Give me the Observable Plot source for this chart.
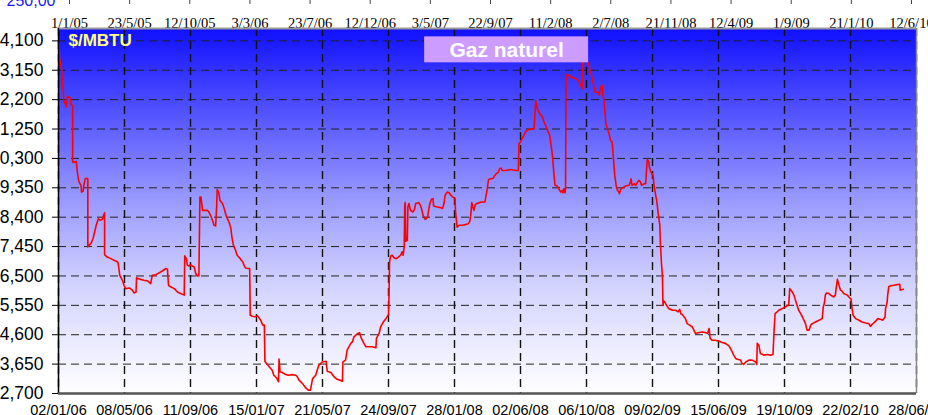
<!DOCTYPE html>
<html><head><meta charset="utf-8">
<script src="https://cdn.jsdelivr.net/npm/d3@7"></script>
<script src="https://cdn.jsdelivr.net/npm/@observablehq/plot@0.6"></script>
<style>
html,body{margin:0;padding:0;overflow:hidden;background:#fff;}
#chart svg{display:block;}
</style></head><body><div id="chart"></div>
<script>
// ---- data ----
const startDate = "2006-01-02";
const dayOffsets = [
1,2,6,8,9,10,13,15,17,20,23,24,27,27,30,34,36,39,43,44,47,49,51,54,56,56,58,62,66,69,72,76,79,84,86,88,88,93,100,106,113,114,117,122,125,128,136,141,144,148,149,153,157,163,170,176,179,186,192,198,205,208,210,214,221,227,233,240,241,244,246,249,252,256,259,262,265,268,270,272,275,284,287,291,294,297,300,302,303,306,308,313,316,319,322,326,329,331,334,338,341,346,349,352,354,357,362,365,366,370,375,380,386,390,393,394,397,401,405,408,411,416,420,421,423,427,434,440,446,453,456,459,466,472,477,481,485,491,497,504,511,513,520,526,532,542,543,548,551,558,561,564,571,575,577,583,587,
599,606,607,612,615,620,625,630,631,632,634,637,641,645,649,653,656,658,660,661,662,663,666,667,669,672,676,679,682,688,691,693,696,700,702,705,707,709,712,715,716,723,730,733,736,738,742,746,749,753,757,758,761,765,771,777,782,785,787,789,791,793,796,803,809,814,817,819,821,825,830,833,836,840,842,845,847,854,863,873,878,879,882,885,889,892,898,905,908,911,914,919,924,927,930,935,938,940,943,945,947,948,952,955,959,962,963,965,967,968,969,973,978,984,989,994,997,1000,1001,1004,1008,1010,1013,1016,1019,1022,1025,1030,1032,1035,1038,1039,1041,1045,1048,1051,1054,1057,1060,1062,1065,1067,1070,1071,1073,1076,1083,1089,1092,1093,1095,1099,1102,1105,1108,1111,1113,1118,1121,1124,1127,1128,1131,1135,1137,1140,1142,1145,1148,1149,1151,1153,1154,1155,1157,
1161,1165,1172,1178,1183,1186,1188,1191,1194,1197,1200,1205,1210,1213,1216,1223,1229,1235,1239,1242,1244,1248,1254,1261,1267,1273,1280,1283,1286,1289,1293,1296,1302,1305,1308,1312,1318,1324,1331,1333,1334,1337,1340,1347,1353,1359,1364,1366,1368,1372,1375,1382,1388,1391,1394,1396,1401,1404,1407,1410,1413,1417,1420,1423,1426,1429,1433,1436,1439,1445,1452,1458,1460,1462,1464,1466,1471,1474,1480,1483,1485,1487,1490,1493,1496,1499,1506,1509,1513,1515,1517,1522,1528,1534,1541,1547,1550,1553,1557,1560,1564,1569,1574,1578,1579,1582,1583,1585,1588,1595,1601,1606,1607,1611,1613
];
const prices = [
14.01,13.52,13.20,12.61,12.50,12.17,12.07,11.96,12.28,12.30,12.23,12.04,12.01,10.18,10.18,10.20,9.86,9.54,9.43,9.21,9.24,9.48,9.64,9.66,9.64,7.44,7.49,7.55,7.71,7.92,8.14,8.35,8.30,8.33,8.46,8.54,7.19,7.11,7.06,7.01,6.95,6.90,6.52,6.36,6.20,6.09,6.11,6.04,5.95,5.98,6.44,6.41,6.39,6.36,6.34,6.25,6.52,6.54,6.60,6.66,6.74,6.72,6.20,6.15,6.09,5.98,5.93,5.88,7.15,7.06,6.85,6.82,6.87,6.81,6.79,6.58,6.50,6.50,9.05,9.05,8.62,8.62,8.57,8.43,8.30,8.14,8.12,8.78,9.29,9.21,8.95,8.84,8.70,8.51,8.37,8.22,8.05,7.76,7.49,7.33,7.17,7.08,7.01,6.95,6.85,6.76,6.74,6.74,5.23,5.20,5.18,5.21,5.07,4.91,4.91,3.74,3.67,3.59,3.51,3.45,3.29,3.21,3.08,3.81,3.40,3.38,3.31,3.29,3.31,3.29,3.24,3.13,3.02,2.88,2.81,2.81,3.18,3.29,3.62,3.72,3.74,3.42,3.38,3.24,3.16,3.10,3.72,3.78,4.10,4.32,4.37,4.53,4.64,4.66,4.53,4.32,4.21,
4.21,4.18,4.48,4.64,4.85,5.01,5.12,5.25,5.88,6.95,7.14,7.17,7.08,7.06,7.11,7.17,7.28,7.17,7.44,8.78,8.87,7.62,7.65,8.73,8.84,8.62,8.57,8.62,8.84,8.87,8.78,8.68,8.46,8.33,8.35,8.41,8.68,8.84,8.98,9.00,8.76,8.73,8.71,8.68,8.84,9.11,9.21,9.19,9.11,9.05,9.00,8.57,8.08,8.14,8.14,8.16,8.19,8.25,8.46,8.87,8.73,8.62,8.82,8.87,8.89,8.89,9.16,9.38,9.62,9.64,9.66,9.75,9.81,9.86,9.97,9.99,9.91,9.91,9.94,9.91,9.91,10.78,10.83,10.94,11.07,11.17,11.24,11.26,11.26,12.17,11.91,11.74,11.64,11.47,11.37,11.15,11.04,10.78,10.40,9.97,9.59,9.43,9.41,9.32,9.21,9.27,9.19,9.32,9.19,9.32,12.98,13.00,12.93,12.90,12.87,12.77,12.66,12.55,13.41,13.95,13.52,13.41,13.31,13.09,12.87,12.61,12.44,12.44,12.34,12.61,12.66,12.34,12.23,11.42,11.26,11.10,10.88,10.83,10.18,9.75,9.38,9.27,9.21,9.16,9.30,9.34,9.41,9.43,9.54,9.64,9.43,9.48,9.43,9.52,9.59,9.54,9.43,9.48,9.48,10.27,10.18,10.02,9.86,9.75,9.43,9.11,8.95,8.51,8.14,7.60,6.95,6.47,5.55,5.71,5.66,
5.55,5.45,5.39,5.39,5.34,5.42,5.28,5.25,5.18,5.12,4.96,4.91,4.85,4.75,4.64,4.67,4.69,4.67,4.64,4.80,4.48,4.42,4.42,4.39,4.35,4.32,4.24,4.15,4.05,3.94,3.83,3.81,3.78,3.67,3.64,3.72,3.78,3.78,3.72,3.64,4.32,4.26,3.99,3.94,3.96,3.94,3.96,4.69,5.28,5.34,5.39,5.45,5.50,5.55,5.55,6.09,5.98,5.88,5.71,5.55,5.39,5.28,5.18,5.07,4.96,4.75,4.75,4.91,4.96,5.01,5.07,5.12,5.50,5.61,5.88,5.95,5.93,5.88,5.82,5.88,6.15,6.39,6.20,6.04,6.01,5.93,5.88,5.82,5.75,5.45,5.23,5.12,5.07,5.01,4.98,4.96,4.87,4.93,4.99,5.04,5.12,5.10,5.07,5.18,5.45,5.66,5.88,6.15,6.18,6.20,6.22,6.23,6.04,6.06,6.07
];
const xTickDates = ["2006-01-02","2006-05-08","2006-09-11","2007-01-15","2007-05-21","2007-09-24","2008-01-28","2008-06-02","2008-10-06","2009-02-09","2009-06-15","2009-10-19","2010-02-22","2010-06-28"];
const yTickValues = [2.7,3.65,4.6,5.55,6.5,7.45,8.4,9.35,10.3,11.25,12.2,13.15,14.1];
// labels as they appear in the picture (leading digit cut off by the page edge)
const yTickLabels = ["2,700","3,650","4,600","5,550","6,500","7,450","8,400","9,350","0,300","1,250","2,200","3,150","4,100"];
const topTickDates = ["2005-01-01","2005-05-23","2005-10-12","2006-03-03","2006-07-23","2006-12-12","2007-05-03","2007-09-22","2008-02-11","2008-07-02","2008-11-21","2009-04-12","2009-09-01","2010-01-21","2010-06-12"];
const unitLabel = "$/MBTU";
const seriesTitle = "Gaz naturel";
const cornerLabel = "250,00";
const titleBox = {from: "2007-12-02", to: "2008-10-10", low: 13.39, high: 14.23};

// ---- helpers ----
const parse = s => new Date(s + "T00:00:00Z");
const t0 = parse(startDate);
const addDays = (d, n) => new Date(d.getTime() + n * 864e5);
const data = dayOffsets.map((d, i) => ({date: addDays(t0, d), price: prices[i]}));
const xTicks = xTickDates.map(parse);
const topTicks = topTickDates.map(parse);
const fmtBottom = d3.utcFormat("%d/%m/%y");
const fmtTop = d3.utcFormat("%-d/%-m/%y");
const fmtY = v => yTickLabels[yTickValues.indexOf(v)];
const sans = "'Liberation Sans', Arial, sans-serif";
const serif = "'Liberation Serif', 'Times New Roman', serif";
const bx1 = parse(titleBox.from), bx2 = parse(titleBox.to);
const boxData = [{x1: bx1, x2: bx2, y1: titleBox.low, y2: titleBox.high,
  xm: new Date((bx1.getTime() + bx2.getTime()) / 2), ym: (titleBox.low + titleBox.high) / 2, label: seriesTitle}];

// ---- top strip (secondary date axis) ----
const topStrip = Plot.plot({
  width: 928, height: 28, marginTop: 0, marginBottom: 24, marginLeft: 0, marginRight: 0,
  style: {fontFamily: serif, fontSize: "14px", color: "#000", background: "transparent", overflow: "visible"},
  x: {type: "utc", domain: [topTicks[0], topTicks[topTicks.length - 1]], range: [69, 911], axis: null},
  marks: [
    Plot.tickX(topTicks, {x: d => d, stroke: "#444", strokeWidth: 1}),
    Plot.text(topTicks, {x: d => d, text: d => fmtTop(d), frameAnchor: "bottom", lineAnchor: "bottom", dy: 23.5,
      fontFamily: serif, fontSize: 14.5, fill: "#000"}),
    Plot.text([cornerLabel], {frameAnchor: "top-left", dx: 55, dy: 5, textAnchor: "end", lineAnchor: "bottom",
      fontFamily: sans, fontSize: 16, fill: "#1a1aff"})
  ]
});

// ---- main chart ----
const xEnd = xTicks[xTicks.length - 1];
const mainChart = Plot.plot({
  width: 928, height: 387, marginTop: 0, marginBottom: 22, marginLeft: 58, marginRight: 12,
  style: {fontFamily: sans, fontSize: "14px", color: "#000", background: "transparent", overflow: "visible"},
  x: {type: "utc", domain: [t0, xEnd]},
  y: {domain: [2.7, 14.5]},
  marks: [
    Plot.frame({fill: "url(#bgGrad)", stroke: "none"}),
    Plot.gridY(yTickValues, {stroke: "#222", strokeOpacity: 1, strokeWidth: 1, strokeDasharray: "8,5"}),
    Plot.gridX(xTicks, {stroke: "#111", strokeOpacity: 1, strokeWidth: 1.4, strokeDasharray: "8,5"}),
    Plot.line(data, {x: "date", y: "price", stroke: "#ff0000", strokeWidth: 1.6}),
    Plot.ruleY([14.5], {stroke: "#9a9a9a", strokeWidth: 2}),
    Plot.ruleX([xEnd], {stroke: "#8a8a8a", strokeWidth: 1.5}),
    Plot.ruleX([t0], {stroke: "#000", strokeWidth: 1.5}),
    Plot.ruleY([2.7], {stroke: "#555", strokeWidth: 2.5}),
    Plot.rect(boxData, {x1: "x1", x2: "x2", y1: "y1", y2: "y2", fill: "#cc9cff"}),
    Plot.text(boxData, {x: "xm", y: "ym", text: "label", fill: "#fff", fontWeight: "bold", fontSize: 21, fontFamily: sans}),
    Plot.text([unitLabel], {frameAnchor: "top-left", dx: 10, dy: 5, lineAnchor: "top", fill: "#ffff80",
      fontWeight: "bold", fontSize: 17, fontFamily: sans}),
    Plot.axisY(yTickValues, {tickFormat: fmtY, tickSize: 6, tickPadding: 9, fontSize: 17.5, fontFamily: sans, stroke: "#000"}),
    Plot.axisX(xTicks, {tickFormat: fmtBottom, tickSize: 0, tickPadding: 11, fontSize: 14.5, fontFamily: sans})
  ]
});

// gradient background definition
const defs = d3.select(mainChart).insert("defs", ":first-child");
const grad = defs.append("linearGradient").attr("id", "bgGrad").attr("x1", 0).attr("y1", 0).attr("x2", 0).attr("y2", 1);
[[0, "#1010ff"], [0.2, "#4a4aff"], [0.45, "#9494ff"], [0.7, "#d2d2ff"], [1, "#ffffff"]]
  .forEach(([o, c]) => grad.append("stop").attr("offset", o).attr("stop-color", c));

const chartDiv = document.getElementById("chart");
chartDiv.appendChild(topStrip);
chartDiv.appendChild(mainChart);
</script></body></html>
